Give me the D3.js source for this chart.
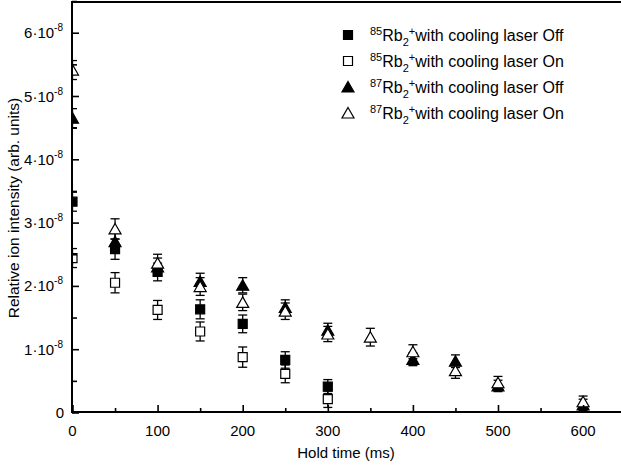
<!DOCTYPE html>
<html>
<head>
<meta charset="utf-8">
<script src="https://cdn.jsdelivr.net/npm/d3@7"></script>
<style>
  body { margin: 0; background: #fff; }
  text { font-family: "Liberation Sans", Arial, sans-serif; fill: #000; }
</style>
</head>
<body>
<svg id="chart"></svg>
<script>
// hold times (ms) and intensities in units of 1e-8
var times85Off = [0, 50, 100, 150, 200, 250, 300];
var vals85Off  = [3.33, 2.58, 2.22, 1.63, 1.40, 0.83, 0.41];
var err85Off   = [0.15, 0.16, 0.14, 0.15, 0.14, 0.13, 0.11];

var times85On = [0, 50, 100, 150, 200, 250, 300];
var vals85On  = [2.44, 2.05, 1.62, 1.28, 0.875, 0.61, 0.21];
var err85On   = [0.15, 0.16, 0.15, 0.15, 0.16, 0.14, 0.13];

var times87Off = [0, 50, 100, 150, 200, 250, 300, 400, 450, 500, 600];
var vals87Off  = [4.65, 2.70, 2.30, 2.07, 2.01, 1.66, 1.30, 0.84, 0.81, 0.42, 0.12];
var err87Off   = [0.15, 0.15, 0.14, 0.13, 0.12, 0.12, 0.11, 0.10, 0.10, 0.09, 0.09];

var times87On = [0, 50, 100, 150, 200, 250, 300, 350, 400, 450, 500, 600];
var vals87On  = [5.41, 2.90, 2.36, 1.99, 1.74, 1.60, 1.24, 1.19, 0.96, 0.66, 0.47, 0.17];
var err87On   = [0.15, 0.16, 0.14, 0.14, 0.13, 0.13, 0.12, 0.14, 0.11, 0.12, 0.10, 0.09];

var xTicks = [0, 100, 200, 300, 400, 500, 600];
var yTicks = [0, 1, 2, 3, 4, 5, 6];
var legendIso = ["85", "85", "87", "87"];
var legendState = ["Off", "On", "Off", "On"];

var svgW = 621, svgH = 468;
var padLeft = 72, axisY = 412, frameTop = 2;

var svg = d3.select('#chart')
  .attr('width', svgW)
  .attr('height', svgH);

var x = d3.scaleLinear().domain([0, 650]).range([padLeft + 0.5, padLeft + 0.5 + 650 * 0.851]);
var y = d3.scaleLinear().domain([0, 6.5]).range([axisY + 0.5, axisY + 0.5 - 6.5 * 63.3]);

svg.append('defs').append('clipPath').attr('id', 'plotclip')
  .append('rect')
  .attr('x', padLeft).attr('y', 0)
  .attr('width', svgW - padLeft).attr('height', axisY);

var series = [
  {key: "85Off", t: times85Off, v: vals85Off, e: err85Off, shape: "square", fill: "#000"},
  {key: "85On",  t: times85On,  v: vals85On,  e: err85On,  shape: "square", fill: "#fff"},
  {key: "87Off", t: times87Off, v: vals87Off, e: err87Off, shape: "triangle", fill: "#000"},
  {key: "87On",  t: times87On,  v: vals87On,  e: err87On,  shape: "triangle", fill: "#fff"}
];

function markerPath(shape) {
  if (shape === "square") return "M-4.5,-4.5H4.5V4.5H-4.5Z";
  return "M0,-5.5L6,5L-6,5Z";
}

var plot = svg.append('g').attr('clip-path', 'url(#plotclip)');

series.forEach(function(s) {
  var pts = s.t.map(function(t, i) { return {t: t, v: s.v[i], e: s.e[i]}; });
  var g = plot.append('g').attr('class', 's' + s.key);
  var eb = g.selectAll('g.err').data(pts).enter().append('g').attr('class', 'err')
    .attr('stroke', '#000').attr('stroke-width', 1.3);
  eb.append('line')
    .attr('x1', function(d) { return x(d.t); }).attr('x2', function(d) { return x(d.t); })
    .attr('y1', function(d) { return y(d.v - d.e); }).attr('y2', function(d) { return y(d.v + d.e); });
  eb.append('line')
    .attr('x1', function(d) { return x(d.t) - 4.5; }).attr('x2', function(d) { return x(d.t) + 4.5; })
    .attr('y1', function(d) { return y(d.v + d.e); }).attr('y2', function(d) { return y(d.v + d.e); });
  eb.append('line')
    .attr('x1', function(d) { return x(d.t) - 4.5; }).attr('x2', function(d) { return x(d.t) + 4.5; })
    .attr('y1', function(d) { return y(d.v - d.e); }).attr('y2', function(d) { return y(d.v - d.e); });
  g.selectAll('path').data(pts).enter().append('path')
    .attr('d', markerPath(s.shape))
    .attr('transform', function(d) { return 'translate(' + x(d.t) + ',' + y(d.v) + ')'; })
    .attr('fill', s.fill).attr('stroke', '#000').attr('stroke-width', 1.2);
});

// axes, ticks pointing inward
var xAxis = d3.axisTop(x).tickValues(d3.range(0, 651, 50)).tickSize(6).tickFormat('');
var xg = svg.append('g').attr('transform', 'translate(0,' + axisY + ')').call(xAxis);
xg.selectAll('.tick line')
  .attr('y2', function(d) { return d % 100 === 0 ? -7 : -4; })
  .attr('stroke', '#000').attr('stroke-width', 1.6);
xg.select('.domain').attr('stroke', '#000').attr('stroke-width', 2)
  .attr('d', 'M' + (padLeft - 1) + ',0H' + (svgW + 5));

svg.append('g').selectAll('text').data(xTicks).enter().append('text')
  .attr('x', function(d) { return x(d); })
  .attr('y', axisY + 24)
  .attr('text-anchor', 'middle')
  .style('font-size', '15px')
  .text(function(d) { return d; });

var yAxis = d3.axisRight(y).tickValues(d3.range(0, 6.51, 0.5)).tickSize(6).tickFormat('');
var yg = svg.append('g').attr('transform', 'translate(' + padLeft + ',0)').call(yAxis);
yg.selectAll('.tick line')
  .attr('x2', function(d) { return Math.round(d) === d ? 7 : 5; })
  .attr('stroke', '#000').attr('stroke-width', 1.6);
yg.select('.domain').attr('stroke', '#000').attr('stroke-width', 2)
  .attr('d', 'M0,' + (axisY + 1) + 'V' + (frameTop - 1));

// top frame line
svg.append('line')
  .attr('x1', padLeft - 1).attr('x2', svgW + 5)
  .attr('y1', frameTop).attr('y2', frameTop)
  .attr('stroke', '#000').attr('stroke-width', 2);

var yl = svg.append('g').selectAll('text').data(yTicks).enter().append('text')
  .attr('x', 63)
  .attr('y', function(d) { return y(d) + 5.5; })
  .attr('text-anchor', 'end')
  .style('font-size', '15px');
yl.each(function(d) {
  var t = d3.select(this);
  if (d === 0) { t.attr('x', 64).text('0'); return; }
  t.append('tspan').text(d + '\u00b710');
  t.append('tspan').attr('dy', -7).style('font-size', '10px').text('-8');
});

svg.append('text')
  .attr('x', 346).attr('y', 458)
  .attr('text-anchor', 'middle')
  .style('font-size', '15px')
  .text('Hold time (ms)');

svg.append('text')
  .attr('transform', 'translate(19,208) rotate(-90)')
  .attr('text-anchor', 'middle')
  .style('font-size', '15.5px')
  .text('Relative ion intensity (arb. units)');

// legend
var rows = svg.append('g').selectAll('g').data(series).enter().append('g')
  .attr('transform', function(d, i) { return 'translate(348,' + (35 + i * 26) + ')'; });
rows.append('path')
  .attr('d', function(d) { return markerPath(d.shape); })
  .attr('fill', function(d) { return d.fill; })
  .attr('stroke', '#000').attr('stroke-width', 1.2);
var lt = rows.append('text').attr('x', 22).attr('y', 6).style('font-size', '16px');
lt.each(function(d, i) {
  var t = d3.select(this);
  t.append('tspan').attr('dy', -6).style('font-size', '11px').text(legendIso[i]);
  t.append('tspan').attr('dy', 6).text('Rb');
  t.append('tspan').attr('dy', 5).style('font-size', '11px').text('2');
  t.append('tspan').attr('dy', -11).style('font-size', '11px').text('+');
  t.append('tspan').attr('dy', 6).text('with cooling laser ' + legendState[i]);
});
</script>
</body>
</html>
